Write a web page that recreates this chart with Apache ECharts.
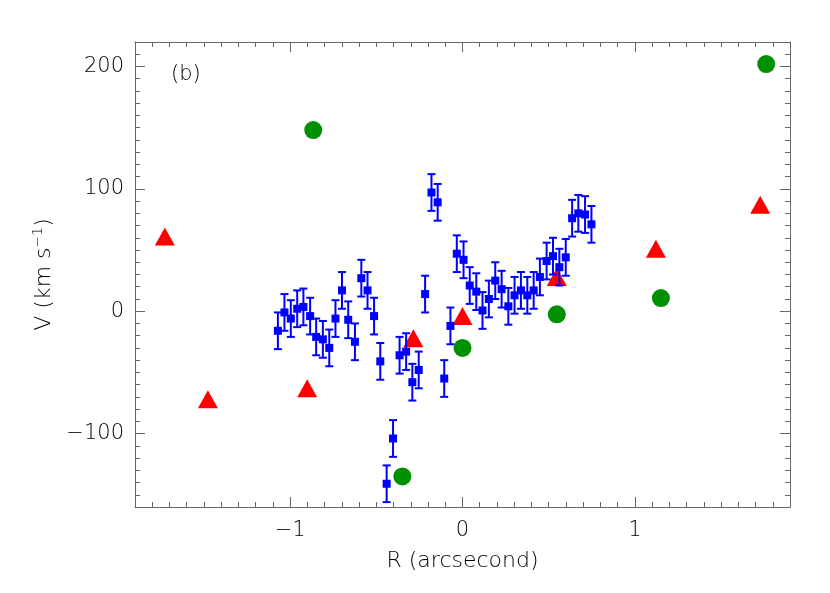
<!DOCTYPE html>
<html>
<head>
<meta charset="utf-8">
<script src="https://cdn.jsdelivr.net/npm/echarts@6/dist/echarts.min.js"></script>
<style>
  html, body { margin: 0; background: #fff; }
  #chart { width: 830px; height: 593px; }
</style>
</head>
<body>
<div id="chart"></div>
<script>
// blue squares with error bars
const blueR = [-1.071, -1.033, -0.996, -0.959, -0.923, -0.884, -0.849, -0.810, -0.773, -0.737,
  -0.699, -0.663, -0.624, -0.587, -0.551, -0.513, -0.477, -0.440, -0.403, -0.365,
  -0.327, -0.291, -0.254, -0.217, -0.180, -0.144, -0.106, -0.070, -0.033, 0.006,
  0.042, 0.080, 0.116, 0.153, 0.190, 0.227, 0.266, 0.302, 0.339, 0.376,
  0.413, 0.449, 0.488, 0.525, 0.562, 0.599, 0.636, 0.672, 0.711, 0.748]
const blueV = [-16, -1, -6, 2, 3.5, -4, -21, -23, -30, -6,
  17, -7, -25, 27, 17, -4, -41, -141, -104, -36,
  -33, -58, -48, 14, 97, 89, -55, -12, 47, 42,
  21, 16, 0.6, 10, 25, 18, 4, 13, 17, 13,
  17, 28, 41, 45, 36, 44, 76, 80, 79, 71]
const blueErr = [15, 15, 15, 15, 15, 15, 15, 15, 15, 15,
  15, 15, 15, 15, 15, 15, 15, 15, 15, 15,
  15, 15, 15, 15, 15, 15, 15, 15, 15, 15,
  15, 15, 15, 15, 15, 15, 15, 15, 15, 15,
  15, 15, 15, 15, 15, 15, 15, 15, 15, 15]

// red triangles
const triR = [-1.727, -1.477, -0.901, -0.285, 0.0, 0.547, 1.122, 1.727]
const triV = [61, -72, -63, -22, -4, 28, 51, 87]

// green circles
const dotR = [-0.866, 1.762, 0.0, 0.547, 1.151, -0.349]
const dotV = [148, 202, -30, -2.5, 10.7, -135]

const xMajor = [-1, 0, 1]
const yMajor = [-100, 0, 100, 200]
const xMin = -1.9, xMax = 1.9
const yMin = -160, yMax = 220

const xMinor = []
for (let i = -18; i <= 18; i++) if (i % 10 !== 0) xMinor.push(i / 10)
const yMinor = []
for (let v = -150; v <= 210; v += 10) if (v % 100 !== 0) yMinor.push(v)

const frame = '#666'
const txt = '#000'
const font = 'DejaVu Sans'
const fmt = v => (v < 0 ? '\u2212' + Math.abs(v) : String(v))

function xAxisDef(pos, ticks, len, showLine, label) {
  return {
    type: 'value', position: pos, min: xMin, max: xMax,
    axisLine: { show: showLine, onZero: false, lineStyle: { color: frame, width: 1 } },
    axisTick: { show: true, inside: true, length: len, customValues: ticks, lineStyle: { color: frame } },
    axisLabel: label ? { show: true, customValues: xMajor, formatter: fmt, color: txt, fontSize: 21, fontWeight: 200, margin: 13, fontFamily: font } : { show: false },
    splitLine: { show: false }
  }
}
function yAxisDef(pos, ticks, len, showLine, label) {
  return {
    type: 'value', position: pos, min: yMin, max: yMax,
    axisLine: { show: showLine, onZero: false, lineStyle: { color: frame, width: 1 } },
    axisTick: { show: true, inside: true, length: len, customValues: ticks, lineStyle: { color: frame } },
    axisLabel: label ? { show: true, customValues: yMajor, formatter: fmt, color: txt, fontSize: 21, fontWeight: 200, margin: 11, fontFamily: font } : { show: false },
    splitLine: { show: false }
  }
}

const chart = echarts.init(document.getElementById('chart'))

const xAxes = [
  xAxisDef('bottom', xMajor, 10, true, true),
  xAxisDef('bottom', xMinor, 5, false, false),
  xAxisDef('top', xMajor, 10, true, false),
  xAxisDef('top', xMinor, 5, false, false)
]
xAxes[0].name = 'R (arcsecond)'
xAxes[0].nameLocation = 'middle'
xAxes[0].nameGap = 43
xAxes[0].nameTextStyle = { color: txt, fontSize: 22, fontWeight: 200, fontFamily: font }

const yAxes = [
  yAxisDef('left', yMajor, 10, true, true),
  yAxisDef('left', yMinor, 5, false, false),
  yAxisDef('right', yMajor, 10, true, false),
  yAxisDef('right', yMinor, 5, false, false)
]
yAxes[0].name = 'V (km s{sup|\u22121})'
yAxes[0].nameLocation = 'middle'
yAxes[0].nameGap = 57
yAxes[0].nameTextStyle = {
  color: txt, fontSize: 22, fontWeight: 200, fontFamily: font,
  rich: { sup: { fontSize: 14, fontWeight: 200, color: txt, fontFamily: font, verticalAlign: 'bottom', padding: [0, 0, 13, 0] } }
}

chart.setOption({
  backgroundColor: '#fff',
  animation: false,
  title: {
    text: '(b)', left: 166, top: 59,
    textStyle: { color: txt, fontSize: 21, fontWeight: 200, fontFamily: font }
  },
  grid: { left: 135, right: 40, top: 42, bottom: 86 },
  xAxis: xAxes,
  yAxis: yAxes,
  series: [
    {
      name: 'circles', type: 'scatter', symbol: 'circle', symbolSize: 18,
      itemStyle: { color: '#009000', opacity: 1 },
      data: dotR.map((r, i) => [r, dotV[i]]),
      z: 2
    },
    {
      name: 'triangles', type: 'scatter', symbol: 'triangle', symbolSize: [20, 18],
      itemStyle: { color: '#ff0000', opacity: 1 },
      data: triR.map((r, i) => [r, triV[i]]),
      z: 3
    },
    {
      name: 'errors', type: 'custom',
      data: blueR.map((r, i) => [r, blueV[i], blueErr[i]]),
      renderItem: function (params, api) {
        const x = api.value(0), v = api.value(1), e = api.value(2)
        const top = api.coord([x, v + e])
        const bot = api.coord([x, v - e])
        const w = 4
        const st = { stroke: '#0000ff', lineWidth: 2 }
        return {
          type: 'group',
          children: [
            { type: 'line', shape: { x1: top[0], y1: top[1], x2: bot[0], y2: bot[1] }, style: st },
            { type: 'line', shape: { x1: top[0] - w, y1: top[1], x2: top[0] + w, y2: top[1] }, style: st },
            { type: 'line', shape: { x1: bot[0] - w, y1: bot[1], x2: bot[0] + w, y2: bot[1] }, style: st }
          ]
        }
      },
      z: 4
    },
    {
      name: 'squares', type: 'scatter', symbol: 'rect', symbolSize: 8,
      itemStyle: { color: '#0000ff', opacity: 1 },
      data: blueR.map((r, i) => [r, blueV[i]]),
      z: 5
    }
  ]
})
</script>
</body>
</html>
